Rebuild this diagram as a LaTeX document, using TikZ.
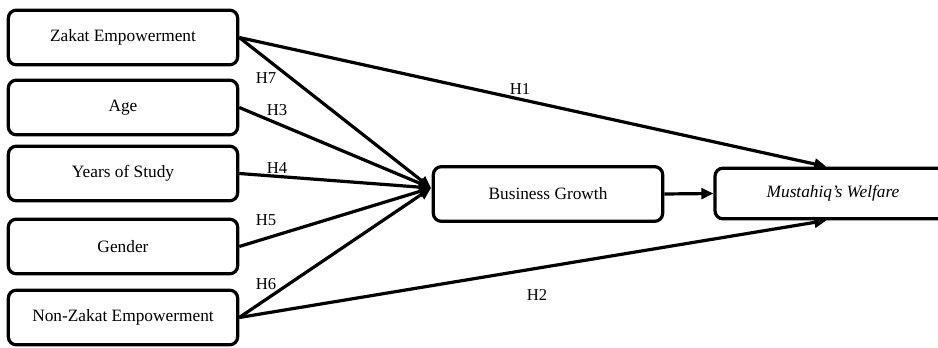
\documentclass[tikz,border=0pt]{standalone}
\usepackage{fontspec}
\setmainfont{Liberation Serif}
\usepackage{tikz}
\usetikzlibrary{arrows.meta, positioning, calc}

\tikzset{
    varbox/.style={draw, line width=2.4pt, rounded corners=6pt, minimum width=172pt, minimum height=41pt, font=\fontsize{13}{15}\selectfont, inner sep=0pt},
    link/.style={line width=2.4pt, -{Triangle[length=9pt,width=8pt]}},
    hyp/.style={font=\fontsize{12.5}{14}\selectfont, inner sep=0pt}
}

\begin{document}
\begin{tikzpicture}[x=0.75pt, y=-0.75pt]

        % Khung ảnh
        \useasboundingbox (0,0) rectangle (938,348);

        % Các biến bên trái
        \node[varbox] (zakat) at (123,37.5) {Zakat Empowerment};
        \node[varbox] (age) at (123,107.5) {Age};
        \node[varbox] (years) at (123,173.5) {Years of Study};
        \node[varbox] (gender) at (123,246.5) {Gender};
        \node[varbox] (nonzakat) at (123,317.5) {Non-Zakat Empowerment};

        % Biến trung gian và biến phụ thuộc
        \node[varbox] (growth) at (548,194) {Business Growth};
        \node[varbox, minimum width=177pt, minimum height=38pt] (welfare) at (833,193.5) {\textit{Mustahiq’s Welfare}};
        \coordinate (hub) at (431,188);

        % Các mũi tên vào Business Growth
        \draw[link] (zakat.east) -- (hub);
        \draw[link] (age.east) -- (hub);
        \draw[link] (years.east) -- (hub);
        \draw[link] (gender.east) -- (hub);
        \draw[link] (nonzakat.east) -- (hub);

        % Các mũi tên vào Mustahiq's Welfare
        \draw[link] (zakat.east) -- ([xshift=-5pt]welfare.north);
        \draw[link] (nonzakat.east) -- ([xshift=-5pt]welfare.south);
        \draw[link] (growth.east) -- (welfare.west);

        % Nhãn giả thuyết
        \node[hyp] (h7) at (266,78) {H7};
        \node[hyp] (h3) at (277,110) {H3};
        \node[hyp] (h4) at (277,168) {H4};
        \node[hyp] (h5) at (266,220) {H5};
        \node[hyp] (h6) at (266,284) {H6};
        \node[hyp] (h1) at (520,89) {H1};
        \node[hyp] (h2) at (537,295) {H2};

\end{tikzpicture}
\end{document}
